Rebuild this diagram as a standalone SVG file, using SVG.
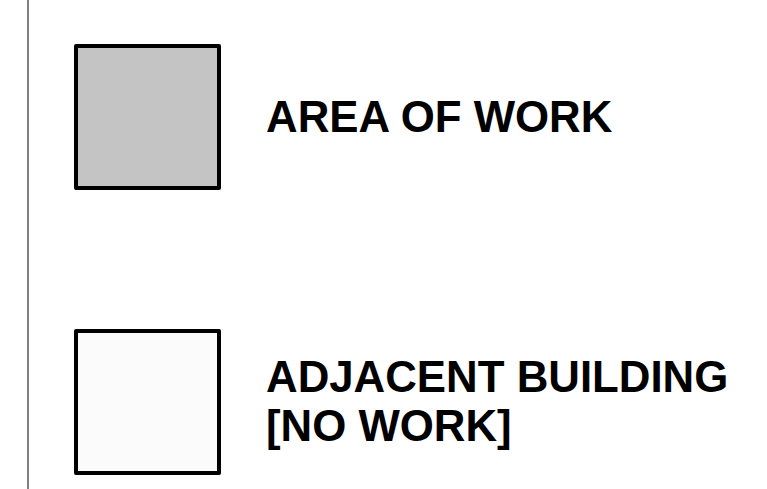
<svg xmlns="http://www.w3.org/2000/svg" width="767" height="489" viewBox="0 0 767 489">
<style>
.box{stroke:#000;stroke-width:4;stroke-linejoin:round}
.t{font-family:"Liberation Sans",Arial,sans-serif;font-weight:bold;font-size:43.800px;fill:#000}
</style>
<rect width="767" height="489" fill="#fff"/>
<path d="M28 0V489" fill="none" stroke="#808080" stroke-width="2"/>
<g id="area-of-work"><rect class="box" x="76" y="46" width="143" height="142" fill="#c4c4c4"/><text class="t" x="266" y="132">AREA OF WORK</text></g>
<g id="adjacent-building"><rect class="box" x="76" y="331" width="143" height="142" fill="#fbfbfb"/><text class="t" x="266" y="392">ADJACENT BUILDING</text><text class="t" x="266" y="441">[NO WORK]</text></g>
</svg>
